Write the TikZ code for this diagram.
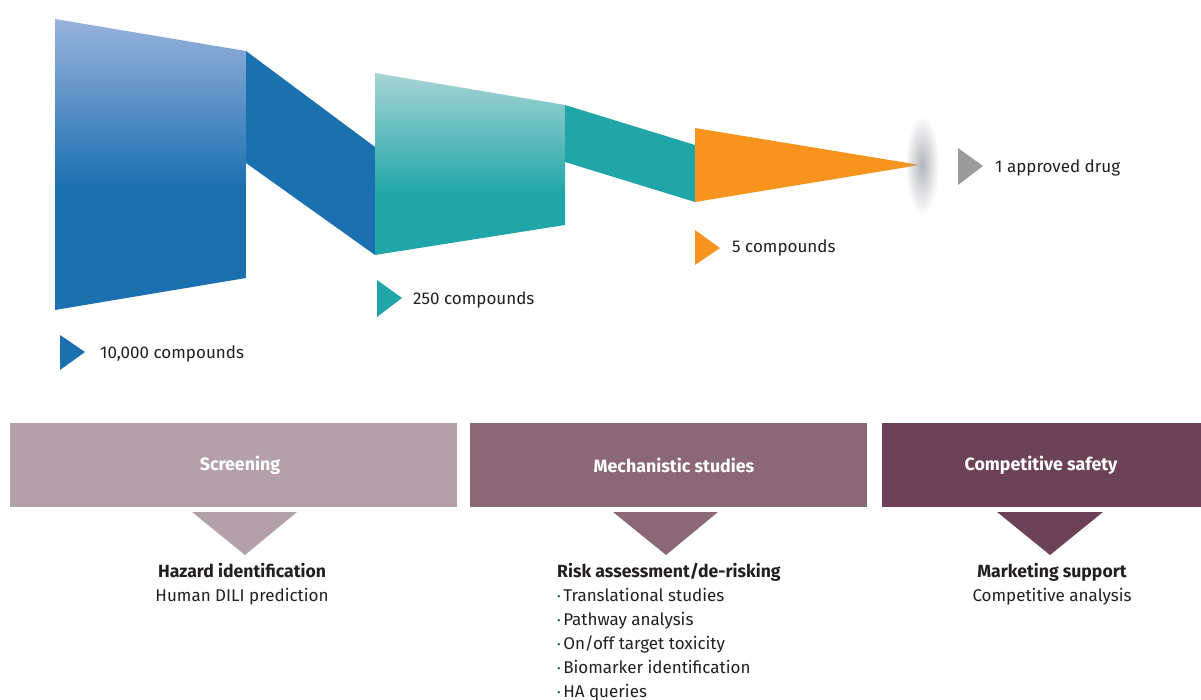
\documentclass[tikz,border=0pt]{standalone}
\usepackage{fontspec}
\setmainfont{Fira Sans}
\usetikzlibrary{fadings}

\definecolor{blueD}{HTML}{1B70B0}
\definecolor{blueL}{HTML}{98B2DC}
\definecolor{tealD}{HTML}{20A6A8}
\definecolor{tealL}{HTML}{A8D4D5}
\definecolor{orangeC}{HTML}{F7941E}
\definecolor{grayT}{HTML}{9B9B9B}
\definecolor{blurC}{HTML}{A4A7B2}
\definecolor{boxA}{HTML}{B4A0AB}
\definecolor{boxB}{HTML}{8A6878}
\definecolor{boxC}{HTML}{6C4258}
\definecolor{txt}{HTML}{231F20}
\definecolor{bul}{HTML}{2B5C8E}

% vertical gradients of the two funnel stages (light on top, solid below)
\pgfdeclareverticalshading{blueblock}{100bp}{color(0bp)=(blueD); color(46bp)=(blueD); color(75bp)=(blueL); color(100bp)=(blueL)}
\pgfdeclareverticalshading{tealblock}{100bp}{color(0bp)=(tealD); color(42bp)=(tealD); color(75bp)=(tealL); color(100bp)=(tealL)}

% soft spot at the funnel tip
\tikzfading[name=softspot, inner color=transparent!15, outer color=transparent!100]

\tikzset{
  lbl/.style={font=\fontsize{17}{20}\selectfont, text=txt, inner sep=0pt},
  head/.style={font=\fontsize{17.6}{20}\selectfont\bfseries, text=txt, inner sep=0pt},
  phase/.style={anchor=north west, minimum height=84pt, inner sep=0pt,
    font=\fontsize{17.8}{20}\selectfont\bfseries, text=white},
  bullet/.style={lbl, anchor=base west},
}
\newcommand{\bdot}{{\color{bul}\fontsize{11}{11}\selectfont\raisebox{0.5pt}{•}}\hspace{2.5pt}}

\begin{document}
\begin{tikzpicture}[x=1pt, y=-1pt]
\useasboundingbox (0,0) rectangle (1201,700);

% ---- funnel ----
\shade[shading=blueblock] (55,19) -- (246,51) -- (246,278) -- (55,310) -- cycle;
\fill[blueD] (246,51) -- (375,147) -- (375,255) -- (246,163) -- cycle;
\shade[shading=tealblock] (375,73) -- (565,105) -- (565,225) -- (375,255) -- cycle;
\fill[tealD] (565,105) -- (695,145) -- (695,202) -- (565,162) -- cycle;
\fill[orangeC] (695,128) -- (920,165) -- (695,202) -- cycle;
\fill[blurC, path fading=softspot, fit fading=true] (922,165) ellipse [x radius=17, y radius=50];

% ---- stage markers ----
\fill[blueD]   (60,335) -- (85,352) -- (60,370) -- cycle;
\fill[tealD]   (377,280) -- (402,298) -- (377,317) -- cycle;
\fill[orangeC] (695,230) -- (720,248) -- (695,265) -- cycle;
\fill[grayT]   (958,148) -- (983,166) -- (958,185) -- cycle;

\node[lbl, anchor=base west] (n10k)  at (100,358) {10,000 compounds};
\node[lbl, anchor=base west] (n250)  at (413,305) {250 compounds};
\node[lbl, anchor=base west] (n5)    at (732,253) {5 compounds};
\node[lbl, anchor=base west] (n1)    at (995,173) {1 approved drug};

% ---- phase bars ----
\node[phase, fill=boxA, minimum width=447pt] (screen) at (10,423) {};
\node[phase, fill=boxB, minimum width=397pt] (mech)   at (470,423) {};
\node[phase, fill=boxC, minimum width=319pt] (comp)   at (882,423) {};
\node[phase, anchor=center, minimum height=0pt] (screenT) at (240,465) {Screening};
\node[phase, anchor=center, minimum height=0pt] (mechT)   at (674,465) {Mechanistic studies};
\node[phase, anchor=center, minimum height=0pt] (compT)   at (1041,465) {Competitive safety};

\fill[boxA] (192,512) -- (297,512) -- (245,555) -- cycle;
\fill[boxB] (613,512) -- (718,512) -- (666,555) -- cycle;
\fill[boxC] (997,512) -- (1103,512) -- (1050,555) -- cycle;

% ---- outcomes ----
\node[head, anchor=base] (haz)  at (242,577) {Hazard identification};
\node[lbl,  anchor=base] (dili) at (242,601) {Human DILI prediction};

\node[head, anchor=base west] (risk) at (557,577) {Risk assessment/de-risking};
\node[bullet] (r1) at (557,601) {\bdot Translational studies};
\node[bullet] (r2) at (557,625) {\bdot Pathway analysis};
\node[bullet] (r3) at (557,649) {\bdot On/off target toxicity};
\node[bullet] (r4) at (557,673) {\bdot Biomarker identification};
\node[bullet] (r5) at (557,697) {\bdot HA queries};

\node[head, anchor=base] (mkt)  at (1052,577) {Marketing support};
\node[lbl,  anchor=base] (cana) at (1052,601) {Competitive analysis};
\end{tikzpicture}
\end{document}
